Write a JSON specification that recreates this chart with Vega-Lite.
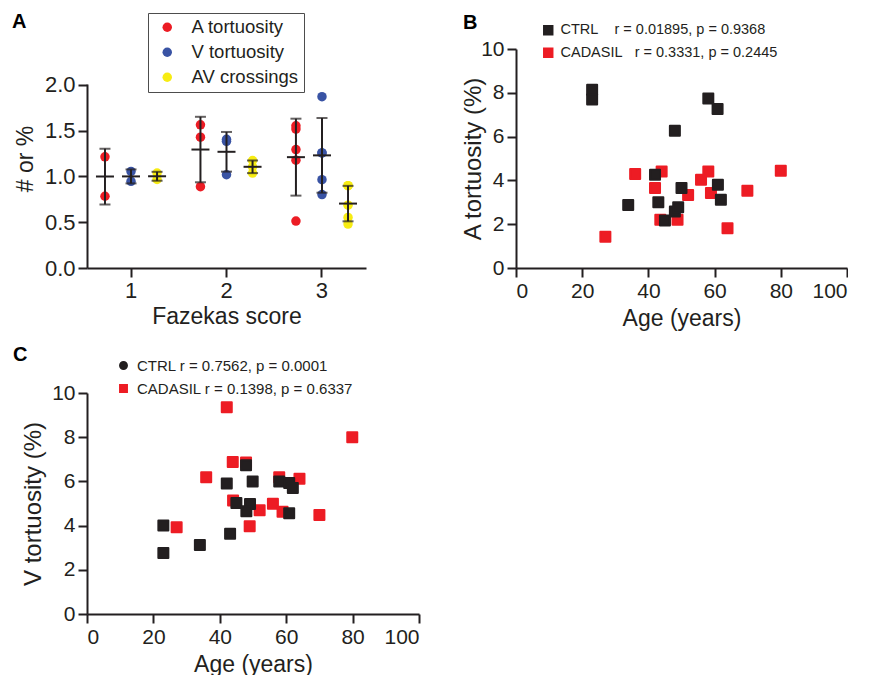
{
  "$schema": "https://vega.github.io/schema/vega-lite/v6.json",
  "padding": {"left": 12, "top": 11, "right": 0, "bottom": 0},
  "background": "white",
  "config": {
    "font": "Liberation Sans",
    "view": {"stroke": null},
    "axis": {
      "grid": false,
      "domainColor": "#231f20", "domainWidth": 2,
      "tickColor": "#231f20", "tickWidth": 2, "tickSize": 9,
      "labelFont": "Liberation Sans", "labelFontSize": 21, "labelColor": "#231f20", "labelPadding": 3,
      "titleFont": "Liberation Sans", "titleFontSize": 23, "titleFontWeight": "normal", "titleColor": "#231f20"
    },
    "legend": {"labelFont": "Liberation Sans", "labelColor": "#231f20", "labelLimit": 500},
    "title": {"font": "Liberation Sans", "fontSize": 20, "fontWeight": "bold", "color": "#000000", "anchor": "start", "frame": "group"}
  },
  "datasets": {
    "fazekas": [
      {"fazekas": "1", "measure": "A tortuosity", "value": 1.215},
      {"fazekas": "1", "measure": "A tortuosity", "value": 0.784},
      {"fazekas": "1", "measure": "V tortuosity", "value": 1.055},
      {"fazekas": "1", "measure": "V tortuosity", "value": 0.947},
      {"fazekas": "1", "measure": "AV crossings", "value": 0.968},
      {"fazekas": "1", "measure": "AV crossings", "value": 1.037},
      {"fazekas": "2", "measure": "A tortuosity", "value": 1.565},
      {"fazekas": "2", "measure": "A tortuosity", "value": 1.43},
      {"fazekas": "2", "measure": "A tortuosity", "value": 0.889},
      {"fazekas": "2", "measure": "V tortuosity", "value": 1.406},
      {"fazekas": "2", "measure": "V tortuosity", "value": 1.384},
      {"fazekas": "2", "measure": "V tortuosity", "value": 1.02},
      {"fazekas": "2", "measure": "AV crossings", "value": 1.175},
      {"fazekas": "2", "measure": "AV crossings", "value": 1.037},
      {"fazekas": "2", "measure": "AV crossings", "value": 1.106},
      {"fazekas": "3", "measure": "A tortuosity", "value": 1.554},
      {"fazekas": "3", "measure": "A tortuosity", "value": 1.518},
      {"fazekas": "3", "measure": "A tortuosity", "value": 1.294},
      {"fazekas": "3", "measure": "A tortuosity", "value": 1.178},
      {"fazekas": "3", "measure": "A tortuosity", "value": 0.513},
      {"fazekas": "3", "measure": "V tortuosity", "value": 1.872},
      {"fazekas": "3", "measure": "V tortuosity", "value": 1.258},
      {"fazekas": "3", "measure": "V tortuosity", "value": 1.258},
      {"fazekas": "3", "measure": "V tortuosity", "value": 0.965},
      {"fazekas": "3", "measure": "V tortuosity", "value": 0.802},
      {"fazekas": "3", "measure": "AV crossings", "value": 0.9},
      {"fazekas": "3", "measure": "AV crossings", "value": 0.9},
      {"fazekas": "3", "measure": "AV crossings", "value": 0.687},
      {"fazekas": "3", "measure": "AV crossings", "value": 0.553},
      {"fazekas": "3", "measure": "AV crossings", "value": 0.48}
    ],
    "atort": [
      {"group": "CADASIL", "age": 36.0, "value": 4.29},
      {"group": "CADASIL", "age": 44.0, "value": 4.41},
      {"group": "CADASIL", "age": 42.0, "value": 3.65},
      {"group": "CADASIL", "age": 43.6, "value": 2.2},
      {"group": "CADASIL", "age": 48.8, "value": 2.2},
      {"group": "CADASIL", "age": 52.0, "value": 3.33},
      {"group": "CADASIL", "age": 55.9, "value": 4.03},
      {"group": "CADASIL", "age": 58.1, "value": 4.41},
      {"group": "CADASIL", "age": 58.9, "value": 3.42},
      {"group": "CADASIL", "age": 63.9, "value": 1.81},
      {"group": "CADASIL", "age": 69.9, "value": 3.53},
      {"group": "CADASIL", "age": 80.0, "value": 4.44},
      {"group": "CADASIL", "age": 27.0, "value": 1.43},
      {"group": "CTRL", "age": 23.0, "value": 8.14},
      {"group": "CTRL", "age": 23.0, "value": 7.69},
      {"group": "CTRL", "age": 58.1, "value": 7.74},
      {"group": "CTRL", "age": 60.9, "value": 7.26},
      {"group": "CTRL", "age": 48.0, "value": 6.27},
      {"group": "CTRL", "age": 33.9, "value": 2.88},
      {"group": "CTRL", "age": 42.0, "value": 4.26},
      {"group": "CTRL", "age": 43.0, "value": 3.0},
      {"group": "CTRL", "age": 45.0, "value": 2.17},
      {"group": "CTRL", "age": 48.0, "value": 2.58},
      {"group": "CTRL", "age": 49.0, "value": 2.77},
      {"group": "CTRL", "age": 50.0, "value": 3.65},
      {"group": "CTRL", "age": 61.0, "value": 3.8},
      {"group": "CTRL", "age": 61.9, "value": 3.12}
    ],
    "vtort": [
      {"group": "CADASIL", "age": 42.1, "value": 9.35},
      {"group": "CADASIL", "age": 79.9, "value": 8.0},
      {"group": "CADASIL", "age": 43.9, "value": 6.88},
      {"group": "CADASIL", "age": 47.9, "value": 6.85},
      {"group": "CADASIL", "age": 35.9, "value": 6.19},
      {"group": "CADASIL", "age": 57.9, "value": 6.19},
      {"group": "CADASIL", "age": 64.0, "value": 6.12},
      {"group": "CADASIL", "age": 44.0, "value": 5.14},
      {"group": "CADASIL", "age": 52.0, "value": 4.69},
      {"group": "CADASIL", "age": 56.0, "value": 4.99},
      {"group": "CADASIL", "age": 58.9, "value": 4.63},
      {"group": "CADASIL", "age": 70.0, "value": 4.48},
      {"group": "CADASIL", "age": 49.0, "value": 3.97},
      {"group": "CADASIL", "age": 27.0, "value": 3.92},
      {"group": "CTRL", "age": 47.9, "value": 6.73},
      {"group": "CTRL", "age": 42.1, "value": 5.9},
      {"group": "CTRL", "age": 49.9, "value": 6.0},
      {"group": "CTRL", "age": 57.9, "value": 6.0},
      {"group": "CTRL", "age": 60.9, "value": 5.93},
      {"group": "CTRL", "age": 62.0, "value": 5.7},
      {"group": "CTRL", "age": 45.0, "value": 5.02},
      {"group": "CTRL", "age": 49.1, "value": 4.98},
      {"group": "CTRL", "age": 48.0, "value": 4.65},
      {"group": "CTRL", "age": 60.9, "value": 4.56},
      {"group": "CTRL", "age": 23.0, "value": 4.0},
      {"group": "CTRL", "age": 43.1, "value": 3.63},
      {"group": "CTRL", "age": 34.0, "value": 3.12},
      {"group": "CTRL", "age": 23.0, "value": 2.76}
    ]
  },
  "resolve": {"scale": {"x": "independent", "y": "independent", "color": "independent", "stroke": "independent", "shape": "independent", "xOffset": "independent"}},
  "spacing": 41,
  "hconcat": [
    {
      "spacing": 17,
      "resolve": {"scale": {"x": "independent", "y": "independent", "color": "independent", "stroke": "independent", "shape": "independent", "xOffset": "independent"}},
      "vconcat": [
        {
          "width": 279, "height": 219,
          "title": {"text": "A", "dx": -75, "offset": -19},
          "data": {"name": "fazekas"},
          "encoding": {
            "x": {"field": "fazekas", "type": "nominal", "scale": {"paddingInner": 0.078, "paddingOuter": 0},
                  "axis": {"title": "Fazekas score", "labelAngle": 0, "labelFontSize": 22, "titlePadding": 4}},
            "xOffset": {"field": "measure", "type": "nominal", "scale": {"domain": ["A tortuosity", "V tortuosity", "AV crossings"], "paddingOuter": 0.19, "paddingInner": 0}}
          },
          "layer": [
            {
              "mark": {"type": "point", "filled": true, "size": 90, "opacity": 1, "shape": "circle"},
              "encoding": {
                "y": {"field": "value", "type": "quantitative", "title": "# or %", "scale": {"domain": [0, 2.3934], "nice": false},
                      "axis": {"title": "# or %", "values": [0, 0.5, 1, 1.5, 2], "format": ".1f", "labelFontSize": 22, "titlePadding": 7, "domainDash": [184, 400]}},
                "color": {"field": "measure", "type": "nominal",
                          "scale": {"domain": ["A tortuosity", "V tortuosity", "AV crossings"], "range": ["#ec1c24", "#3953a4", "#f7ec13"]},
                          "legend": {"orient": "none", "legendX": 61, "legendY": -36, "title": null, "strokeColor": "#4d4d4d", "padding": 5,
                                     "symbolType": "circle", "symbolSize": 90, "symbolOffset": 5, "labelOffset": 15, "labelFontSize": 18.5, "rowPadding": 6, "fillColor": "white"}}
              }
            },
            {
              "mark": {"type": "errorbar", "extent": "stdev", "color": "#231f20", "thickness": 2, "ticks": {"size": 11, "thickness": 2}},
              "encoding": {"y": {"field": "value", "type": "quantitative", "title": "# or %"}}
            },
            {
              "mark": {"type": "tick", "size": 18, "thickness": 2, "color": "#231f20", "opacity": 1},
              "encoding": {"y": {"aggregate": "mean", "field": "value", "type": "quantitative", "title": "# or %"}}
            }
          ]
        },
        {
          "width": 332, "height": 221,
          "title": {"text": "C", "dx": -74, "offset": -7},
          "data": {"name": "vtort"},
          "encoding": {
            "x": {"field": "age", "type": "quantitative", "scale": {"domain": [0, 100], "nice": false},
                  "axis": {"title": "Age (years)", "values": [0, 20, 40, 60, 80, 100], "titlePadding": 6}},
            "y": {"field": "value", "type": "quantitative", "scale": {"domain": [0, 10], "nice": false},
                  "axis": {"title": "V tortuosity (%)", "values": [0, 2, 4, 6, 8, 10], "titlePadding": 6, "titleFontSize": 24}},
            "color": {"field": "group", "type": "nominal", "scale": {"domain": ["CTRL", "CADASIL"], "range": ["#231f20", "#ed1c24"]},
                      "legend": {"orient": "none", "legendX": 29, "legendY": -35, "title": null, "padding": 0, "symbolSize": 55,
                                 "labelOffset": 6, "labelFontSize": 15, "rowPadding": 7,
                                 "labelExpr": "datum.value == 'CTRL' ? 'CTRL r = 0.7562, p = 0.0001' : 'CADASIL r = 0.1398, p = 0.6337'"}}
          },
          "layer": [
            {
              "mark": {"type": "point", "filled": true, "size": 55, "opacity": 1},
              "encoding": {
                "shape": {"field": "group", "type": "nominal", "scale": {"domain": ["CTRL", "CADASIL"], "range": ["circle", "square"]}}
              }
            },
            {
              "mark": {"type": "point", "shape": "square", "filled": true, "size": 100, "opacity": 1, "strokeWidth": 2, "strokeJoin": "round"},
              "encoding": {
                "stroke": {"field": "group", "type": "nominal", "scale": {"domain": ["CTRL", "CADASIL"], "range": ["#231f20", "#ed1c24"]}, "legend": null}
              }
            }
          ]
        }
      ]
    },
    {
      "vconcat": [
        {
          "width": 331, "height": 219,
          "title": {"text": "B", "dx": -53, "offset": 5},
          "data": {"name": "atort"},
          "mark": {"type": "point", "shape": "square", "filled": true, "size": 100, "opacity": 1, "strokeWidth": 2, "strokeJoin": "round"},
          "encoding": {
            "x": {"field": "age", "type": "quantitative", "scale": {"domain": [0, 100], "nice": false},
                  "axis": {"title": "Age (years)", "values": [0, 20, 40, 60, 80, 100], "titlePadding": 6}},
            "y": {"field": "value", "type": "quantitative", "scale": {"domain": [0, 10], "nice": false},
                  "axis": {"title": "A tortuosity (%)", "values": [0, 2, 4, 6, 8, 10], "titlePadding": -5, "titleFontSize": 24}},
            "color": {"field": "group", "type": "nominal", "scale": {"domain": ["CTRL", "CADASIL"], "range": ["#231f20", "#ed1c24"]},
                      "legend": {"orient": "none", "legendX": 25, "legendY": -26, "title": null, "padding": 0, "symbolType": "square", "symbolSize": 80,
                                 "labelOffset": 5, "labelFontSize": 14.5, "rowPadding": 6.5,
                                 "labelExpr": "datum.value == 'CTRL' ? 'CTRL\u00a0\u00a0\u00a0 r = 0.01895, p = 0.9368' : 'CADASIL\u00a0\u00a0 r = 0.3331, p = 0.2445'"}},
            "stroke": {"field": "group", "type": "nominal", "scale": {"domain": ["CTRL", "CADASIL"], "range": ["#231f20", "#ed1c24"]}, "legend": null}
          }
        }
      ]
    }
  ]
}
